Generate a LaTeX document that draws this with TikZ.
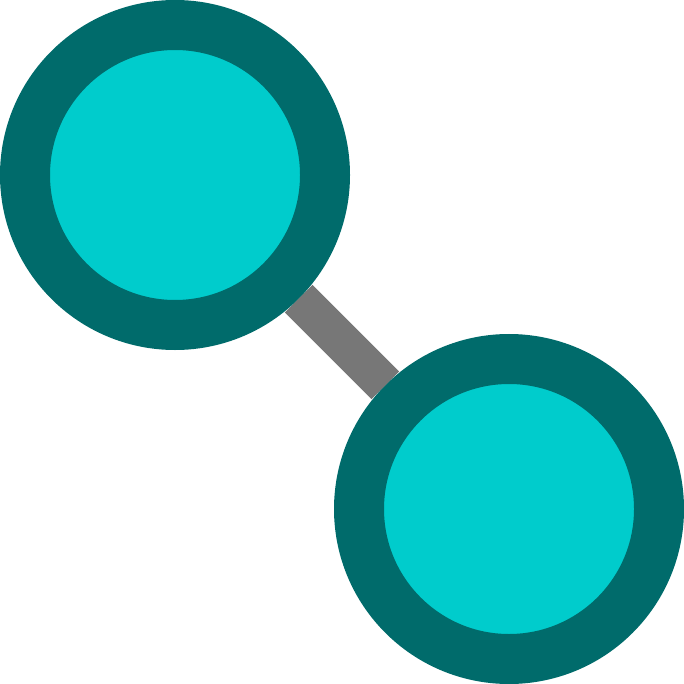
\documentclass[tikz,border=0pt]{standalone}
\definecolor{ringteal}{RGB}{0,107,107}
\definecolor{corecyan}{RGB}{0,204,204}
\definecolor{linkgray}{RGB}{119,119,119}
\tikzset{
  ball/.style={circle, draw=ringteal, fill=corecyan, line width=50pt, minimum size=300pt, inner sep=0pt},
  link/.style={draw=linkgray, line width=39pt}
}
\begin{document}
\begin{tikzpicture}[x=1pt,y=-1pt]
\useasboundingbox (0,0) rectangle (684,684);
\node[ball] (a) at (175,175) {};
\node[ball] (b) at (509,509) {};
\draw[link] (a) -- (b);
\end{tikzpicture}
\end{document}
